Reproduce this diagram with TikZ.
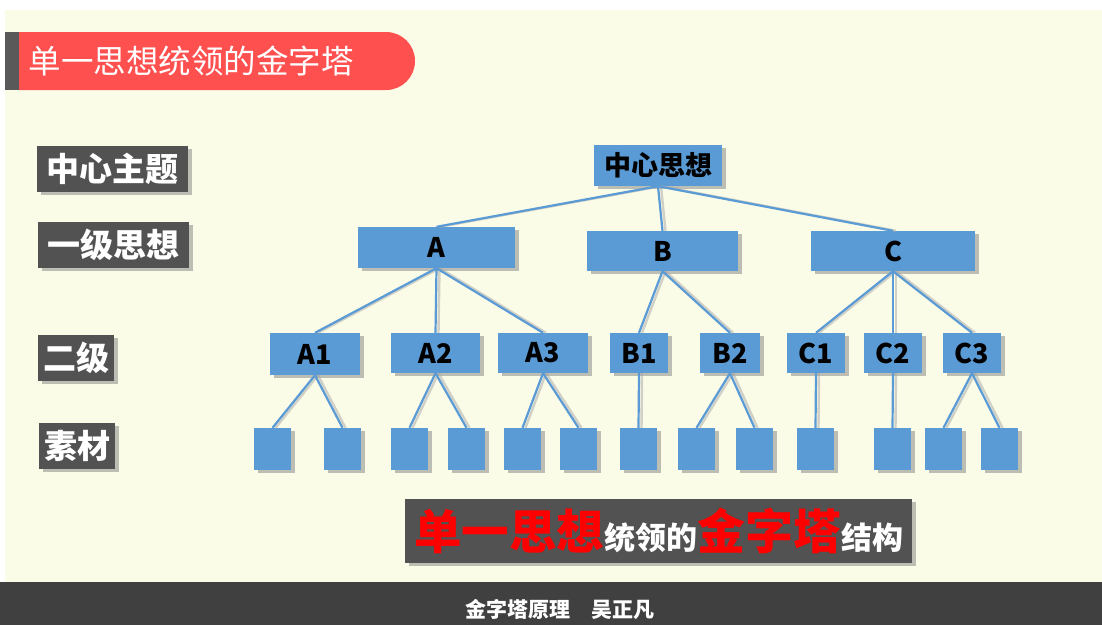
\documentclass[tikz,border=0pt]{standalone}
\usepackage{fontspec}
\setmainfont{Noto Sans CJK SC}
\usetikzlibrary{shadows}

\definecolor{cream}{RGB}{251,252,232}
\definecolor{treeblue}{RGB}{91,155,213}
\definecolor{tagdark}{RGB}{82,82,82}
\definecolor{footdark}{RGB}{64,64,64}
\definecolor{titlered}{RGB}{255,80,80}
\definecolor{bargray}{RGB}{89,89,89}

\newcommand{\fsz}[1]{\fontsize{#1}{#1}\selectfont}
% parent to child, with a soft grey copy behind
\newcommand{\linkto}[2]{%
  \draw[linkshade] ([xshift=3pt]#1.south) -- ([xshift=3pt]#2.north);
  \draw[link] (#1.south) -- (#2.north);}

\tikzset{
  softshadow/.style={drop shadow={shadow xshift=4pt,shadow yshift=-3pt,
      fill=black!55,opacity=0.45}},
  box/.style={fill=treeblue,inner sep=0pt,text=black,
    font=\bfseries\fsz{27},softshadow},
  leaf/.style={fill=treeblue,inner sep=0pt,minimum width=37pt,
    minimum height=42pt,softshadow},
  tag/.style={fill=tagdark,inner sep=0pt,text=white,
    font=\bfseries\fsz{33},minimum height=46pt,softshadow},
  link/.style={draw=treeblue,line width=2.2pt},
  linkshade/.style={draw=black!35,line width=2.4pt,opacity=0.5},
}

\begin{document}
\begin{tikzpicture}[x=1pt,y=-1pt]
  \useasboundingbox (0,0) rectangle (1102,625);
  \fill[white] (0,0) rectangle (1102,625);
  \fill[cream] (5,10) rectangle (1102,582);
  \fill[footdark] (0,582) rectangle (1102,625);

  % title bar
  \fill[bargray] (5,32) rectangle (19,90);
  \fill[titlered] (19,32) [rounded corners=28.9pt] -- (415,32) -- (415,90)
    [sharp corners] -- (19,90) -- cycle;
  \node[anchor=west,text=white,font=\fsz{32.5}] (title) at (25,61)
    {单一思想统领的金字塔};

  % level tags
  \node[tag,minimum width=151pt] (tagtop) at (112.5,169) {中心主题};
  \node[tag,minimum width=151pt] (tagone) at (113,245) {一级思想};
  \node[tag,minimum width=76pt] (tagtwo) at (76,358) {二级};
  \node[tag,minimum width=76pt] (tagmat) at (77,446) {素材};

  % the tree
  \node[box,minimum width=128pt,minimum height=41pt] (top) at (658,165.5)
    {中心思想};
  \node[box,minimum width=157pt,minimum height=41pt] (A) at (436.5,247.5) {A};
  \node[box,minimum width=151pt,minimum height=40pt] (B) at (662.5,251) {B};
  \node[box,minimum width=164pt,minimum height=40pt] (C) at (893,251) {C};

  \node[box,minimum width=90pt,minimum height=42pt] (A1) at (315,354) {A1};
  \node[box,minimum width=89pt,minimum height=40pt] (A2) at (435.5,353) {A2};
  \node[box,minimum width=90pt,minimum height=40pt] (A3) at (543,353) {A3};
  \node[box,minimum width=58pt,minimum height=40pt] (B1) at (639,353) {B1};
  \node[box,minimum width=60pt,minimum height=40pt] (B2) at (730,353) {B2};
  \node[box,minimum width=58pt,minimum height=40pt] (C1) at (816,353) {C1};
  \node[box,minimum width=58pt,minimum height=40pt] (C2) at (893,353) {C2};
  \node[box,minimum width=58pt,minimum height=40pt] (C3) at (972,353) {C3};

  \node[leaf] (m1) at (272.5,449) {};
  \node[leaf] (m2) at (342.5,449) {};
  \node[leaf] (m3) at (409.5,449) {};
  \node[leaf] (m4) at (466.5,449) {};
  \node[leaf] (m5) at (522.5,449) {};
  \node[leaf] (m6) at (578.5,449) {};
  \node[leaf] (m7) at (638.5,449) {};
  \node[leaf] (m8) at (696.5,449) {};
  \node[leaf] (m9) at (754.5,449) {};
  \node[leaf] (m10) at (815.5,449) {};
  \node[leaf] (m11) at (892.5,449) {};
  \node[leaf] (m12) at (943.5,449) {};
  \node[leaf] (m13) at (999.5,449) {};

  \linkto{top}{A} \linkto{top}{B} \linkto{top}{C}
  \linkto{A}{A1} \linkto{A}{A2} \linkto{A}{A3}
  \linkto{B}{B1} \linkto{B}{B2}
  \linkto{C}{C1} \linkto{C}{C2} \linkto{C}{C3}
  \linkto{A1}{m1} \linkto{A1}{m2}
  \linkto{A2}{m3} \linkto{A2}{m4}
  \linkto{A3}{m5} \linkto{A3}{m6}
  \linkto{B1}{m7}
  \linkto{B2}{m8} \linkto{B2}{m9}
  \linkto{C1}{m10}
  \linkto{C2}{m11}
  \linkto{C3}{m12} \linkto{C3}{m13}

  % slogan and footer
  \node[fill=tagdark,inner sep=0pt,minimum width=507pt,minimum height=64pt,
    softshadow,font=\bfseries] (slogan) at (658.5,531)
    {\textcolor{red}{\fsz{47.5}单一思想}\textcolor{white}{\fsz{31}统领的}%
     \textcolor{red}{\fsz{48}金字塔}\textcolor{white}{\fsz{31}结构}};
  \node[text=white,font=\bfseries\fsz{21}] (foot) at (560,609)
    {金字塔原理\hspace{21pt}吴正凡};
\end{tikzpicture}
\end{document}
